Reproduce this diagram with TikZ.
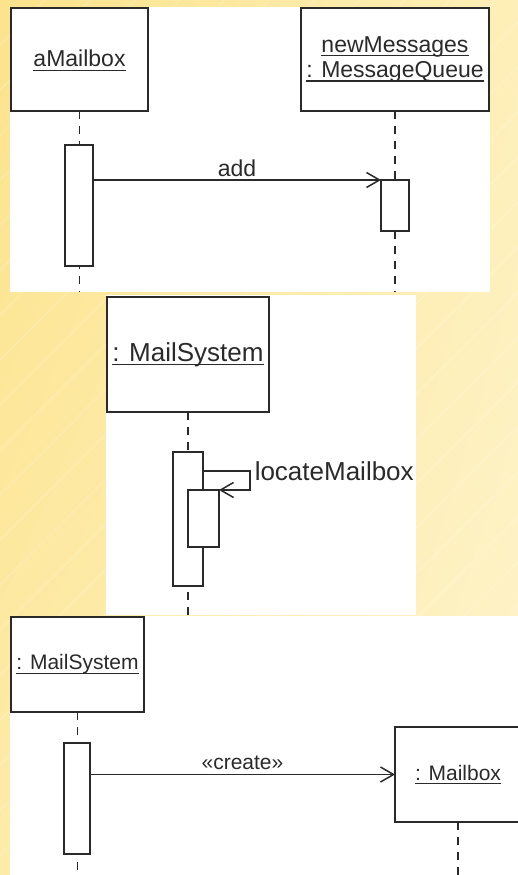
\documentclass[tikz,border=0pt]{standalone}
\usepackage{fontspec}
\setmainfont{Liberation Sans}
\usetikzlibrary{arrows.meta,calc,shadings}
\definecolor{ink}{HTML}{2A2A2A}
\definecolor{bgTL}{HTML}{FCE38C}
\definecolor{bgTR}{HTML}{FEEFB8}
\definecolor{bgBL}{HTML}{FDEBAA}
\definecolor{bgBR}{HTML}{FEF4CC}
\newcommand{\uln}[1]{\setbox0\hbox{#1}\rlap{\rule[-4.2pt]{\wd0}{1.5pt}}\box0}
\begin{document}
\begin{tikzpicture}[x=1pt,y=-1pt,
  obj/.style={draw=ink, line width=2pt, fill=white, inner sep=0pt, outer sep=0pt, text=ink, align=center},
  act/.style={draw=ink, line width=1.9pt, fill=white, inner sep=0pt, outer sep=0pt},
  life/.style={draw=ink, line width=1.6pt, dash pattern=on 8pt off 7pt},
  msg/.style={draw=ink, line width=1.5pt, -{Straight Barb[length=13pt,width=15pt,line width=1.5pt]}},
  lbl/.style={text=ink, inner sep=0pt},
  panel/.style={fill=white, draw=none},
  fA/.style={font=\fontsize{23}{25.5}\selectfont},
  fB/.style={font=\fontsize{26}{28}\selectfont},
  fC/.style={font=\fontsize{21}{23}\selectfont}]
\useasboundingbox (0,0) rectangle (518,875);
\begin{scope}
\clip (0,0) rectangle (518,875);
% background
\shade[upper left=bgTL, upper right=bgTR, lower left=bgBL, lower right=bgBR] (0,0) rectangle (518,875);
\foreach \k in {0,45,...,1400}
  \draw[white, opacity=0.25, line width=0.8pt] (\k-875,875) -- (\k,0);
% panels
\fill[panel] (10,7) rectangle (490,292);
\fill[panel] (106,295) rectangle (416,615);
\fill[panel] (10,616) rectangle (518,875);

% ---------- panel 1 ----------
\coordinate (p1end) at (0,292);
\node[obj, fA, minimum width=137pt, minimum height=103pt, text depth=2pt] (amb) at (79.5,59.5) {\uln{aMailbox}};
\node[obj, fA, minimum width=188pt, minimum height=103pt] (nmq) at (395,59.5) {\uln{newMessages}\\\uln{: MessageQueue}};
\draw[life] (amb.south) -- (amb.south |- p1end);
\draw[life] (nmq.south) -- (nmq.south |- p1end);
\node[act, minimum width=28pt, minimum height=121pt] (act1) at (79,205.5) {};
\node[act, minimum width=28pt, minimum height=51pt] (act2) at (395,205.5) {};
\draw[msg] (act1.east |- act2.north) -- node[lbl, fA, above=3pt] (addl) {add} (act2.north west);

% ---------- panel 2 ----------
\coordinate (p2end) at (0,615);
\node[obj, fB, minimum width=162pt, minimum height=115pt] (ms1) at (188,354.5) {\uln{: MailSystem}};
\draw[life] (ms1.south) -- (ms1.south |- p2end);
\node[act, minimum width=30pt, minimum height=134pt] (act3) at (188,519) {};
\node[act, minimum width=31pt, minimum height=57pt] (act4) at (203.5,518.5) {};
\draw[msg] ($(act3.north east)+(0,19)$) -- ++(47,0)
  node[lbl, fB, anchor=west, xshift=4pt] (locl) {locateMailbox} |- (act4.north east);

% ---------- panel 3 ----------
\coordinate (p3end) at (0,875);
\node[obj, fC, minimum width=133pt, minimum height=95pt] (ms2) at (77.5,664.5) {\uln{: MailSystem}};
\node[obj, fC, minimum width=126pt, minimum height=95pt, anchor=west] (mb) at (395,774.5) {\uln{: Mailbox}};
\draw[life] (ms2.south) -- (ms2.south |- p3end);
\coordinate (mbl) at (458,822);
\draw[life] (mbl) -- (mbl |- p3end);
\node[act, minimum width=26pt, minimum height=111pt] (act5) at (77,798.5) {};
\draw[msg] (act5.east |- mb.west) -- node[lbl, fC, above=4pt] (crl) {«create»} (mb.west);
\end{scope}
\end{tikzpicture}
\end{document}
